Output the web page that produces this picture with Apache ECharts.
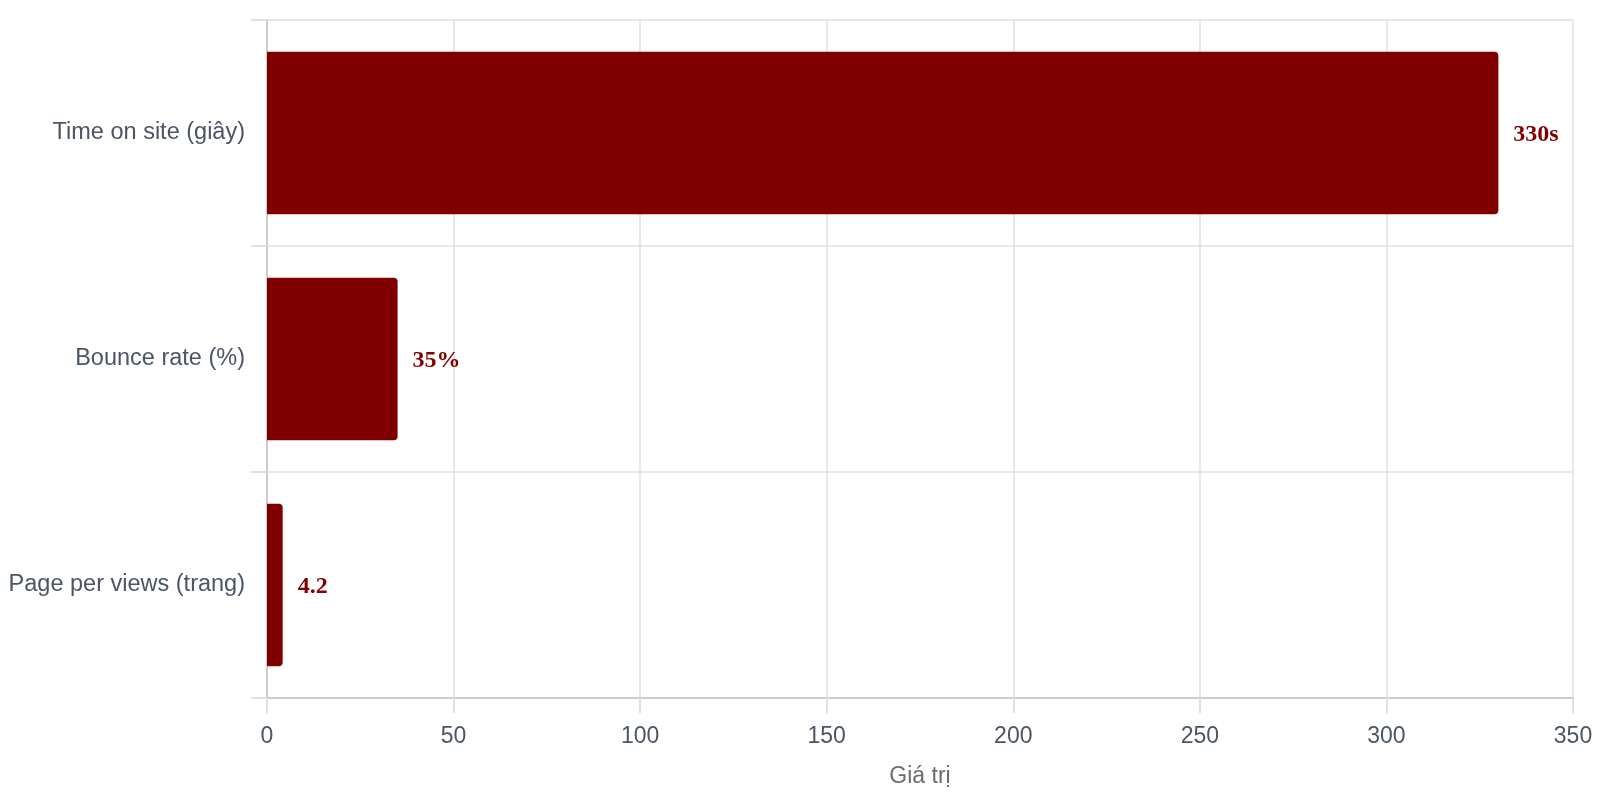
<!DOCTYPE html>
<html>
<head>
<meta charset="utf-8">
<script src="https://cdn.jsdelivr.net/npm/echarts@6/dist/echarts.min.js"></script>
<style>
html,body{margin:0;padding:0;background:#fff;}
#chart{width:1600px;height:800px;}
</style>
</head>
<body>
<div id="chart"></div>
<script>
const categories = ["Time on site (giây)", "Bounce rate (%)", "Page per views (trang)"];
const values = [330, 35, 4.2];
const valueLabels = ["330s", "35%", "4.2"];
const xTicks = [0, 50, 100, 150, 200, 250, 300, 350];
const axisName = "Giá trị";

const chart = echarts.init(document.getElementById('chart'));
chart.setOption({
  animation: false,
  grid: { left: 267, right: 27, top: 20, bottom: 102 },
  xAxis: {
    type: 'value',
    min: xTicks[0],
    max: xTicks[xTicks.length - 1],
    interval: 50,
    name: axisName,
    nameLocation: 'middle',
    nameGap: 67,
    nameTextStyle: { color: '#6b6b6b', fontSize: 23, fontFamily: 'Liberation Sans, Arial, sans-serif' },
    axisLine: { show: true, lineStyle: { color: '#cccccc', width: 2 } },
    axisTick: { show: true, length: 15, lineStyle: { color: '#e0e0e0', width: 2 } },
    axisLabel: { color: '#4b5563', fontSize: 23, margin: 27, fontFamily: 'Liberation Sans, Arial, sans-serif' },
    splitLine: { show: true, lineStyle: { color: '#e0e0e0', width: 1.5 } }
  },
  yAxis: {
    type: 'category',
    data: categories,
    inverse: true,
    axisLine: { show: true, lineStyle: { color: '#cccccc', width: 2 } },
    axisTick: { show: true, length: 16, lineStyle: { color: '#e0e0e0', width: 2 } },
    axisLabel: { color: '#4b5563', fontSize: 23.5, margin: 22, fontFamily: 'Liberation Sans, Arial, sans-serif' },
    splitLine: { show: true, lineStyle: { color: '#e0e0e0', width: 1.5 } }
  },
  series: [{
    type: 'bar',
    data: values,
    barWidth: '72%',
    itemStyle: { color: '#800000', borderRadius: [0, 4, 4, 0] },
    label: {
      show: true,
      position: 'right',
      distance: 15,
      offset: [0, 2],
      color: '#800000',
      fontWeight: 'bold',
      fontSize: 24,
      fontFamily: 'Liberation Serif, Times New Roman, serif',
      formatter: p => valueLabels[p.dataIndex]
    }
  }]
});
</script>
</body>
</html>
